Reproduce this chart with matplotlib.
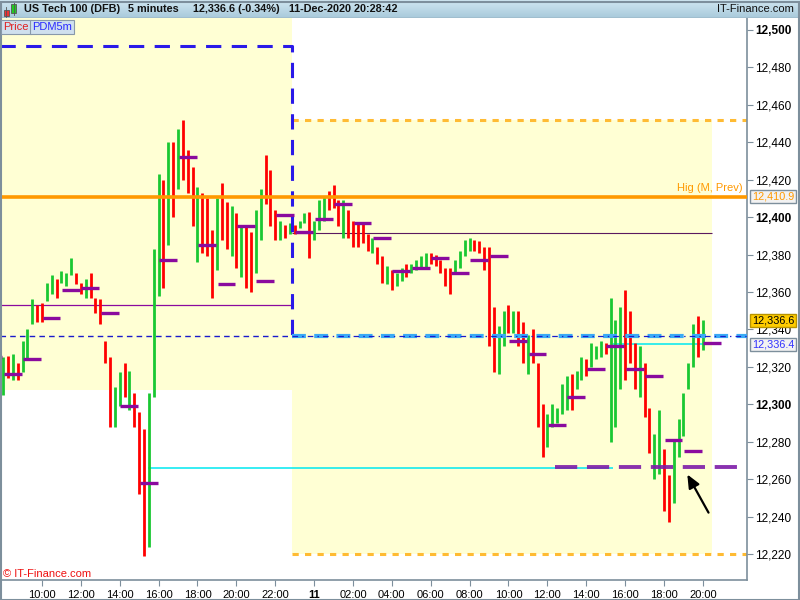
import numpy as np
import matplotlib
matplotlib.use("Agg")
import matplotlib.pyplot as plt
from matplotlib.patches import Rectangle
from matplotlib.colors import LinearSegmentedColormap

plt.rcParams['font.family'] = ['Liberation Sans', 'DejaVu Sans']
plt.rcParams['lines.scale_dashes'] = False

# time in hours since 10-Dec-2020 00:00, 15 minute bars from 08:00
bar_start = 8.0
bar_step = 0.25
bar_high = [12325, 12326, 12327, 12322, 12334, 12340, 12356, 12353, 12354, 12365,
            12369, 12367, 12371, 12370, 12378, 12370, 12365, 12367, 12370, 12357,
            12356, 12334, 12325, 12309, 12317, 12322, 12318, 12306, 12296, 12287,
            12306, 12383, 12423, 12420, 12440, 12440, 12447, 12452, 12436, 12427,
            12416, 12413, 12410, 12393, 12410, 12418, 12408, 12406, 12402, 12395,
            12395, 12392, 12404, 12415, 12433, 12425, 12404, 12398, 12396, 12397,
            12396, 12398, 12402, 12403, 12398, 12409, 12411, 12414, 12417, 12409,
            12409, 12404, 12398, 12397, 12397, 12391, 12389, 12384, 12379, 12374,
            12372, 12370, 12373, 12375, 12375, 12377, 12379, 12381, 12381, 12380,
            12377, 12373, 12373, 12377, 12382, 12388, 12389, 12388, 12387, 12384,
            12384, 12352, 12342, 12350, 12353, 12350, 12350, 12344, 12337, 12340,
            12322, 12300, 12295, 12300, 12298, 12311, 12315, 12316, 12318, 12325,
            12324, 12333, 12331, 12334, 12333, 12357, 12345, 12352, 12361, 12350,
            12333, 12331, 12322, 12298, 12284, 12297, 12276, 12262, 12281, 12292,
            12306, 12322, 12343, 12347, 12345]
bar_low = [12305, 12314, 12313, 12313, 12317, 12324, 12343, 12344, 12344, 12355,
           12359, 12357, 12365, 12363, 12369, 12364, 12359, 12357, 12357, 12349,
           12343, 12322, 12288, 12288, 12299, 12304, 12297, 12288, 12252, 12219,
           12224, 12304, 12358, 12362, 12385, 12400, 12415, 12420, 12413, 12395,
           12376, 12381, 12379, 12357, 12372, 12388, 12383, 12379, 12373, 12368,
           12362, 12360, 12370, 12388, 12407, 12395, 12388, 12388, 12389, 12391,
           12391, 12394, 12397, 12378, 12388, 12393, 12398, 12404, 12405, 12395,
           12389, 12389, 12384, 12384, 12386, 12382, 12381, 12375, 12365, 12364,
           12361, 12363, 12366, 12368, 12370, 12372, 12373, 12373, 12375, 12374,
           12370, 12363, 12359, 12370, 12373, 12379, 12382, 12382, 12381, 12372,
           12331, 12317, 12316, 12331, 12338, 12338, 12331, 12322, 12316, 12322,
           12288, 12272, 12277, 12288, 12290, 12295, 12297, 12297, 12308, 12313,
           12315, 12320, 12324, 12325, 12327, 12280, 12288, 12308, 12313, 12322,
           12308, 12304, 12293, 12274, 12260, 12263, 12243, 12237, 12247, 12272,
           12283, 12308, 12320, 12325, 12329]
bar_up = [1, 0, 1, 0, 1, 1, 1, 0, 0, 1, 1, 0, 1, 1, 1, 0, 0, 1, 0, 0,
          0, 0, 0, 1, 1, 0, 1, 0, 0, 0, 1, 1, 1, 0, 1, 0, 1, 0, 0, 0,
          1, 0, 0, 0, 1, 0, 0, 1, 0, 1, 0, 0, 1, 1, 0, 0, 0, 1, 0, 1,
          0, 1, 1, 0, 1, 1, 1, 0, 0, 0, 1, 0, 0, 0, 0, 0, 1, 0, 0, 1,
          0, 1, 1, 0, 1, 1, 1, 1, 0, 0, 0, 0, 0, 1, 1, 1, 1, 0, 0, 0,
          0, 0, 1, 1, 0, 1, 0, 0, 1, 0, 0, 0, 1, 1, 1, 1, 1, 0, 1, 1,
          0, 1, 1, 1, 0, 1, 1, 1, 0, 0, 0, 1, 0, 0, 1, 1, 0, 0, 1, 1,
          1, 1, 1, 0, 1]

# hourly levels (purple marks), one per hour from 07:00
hour_start = 7
hour_level = [12325, 12316, 12324, 12346, 12361, 12362, 12349, 12299, 12258, 12377,
              12432, 12385, 12364, 12395, 12366, 12401, 12392, 12399, 12407, 12397,
              12389, 12371, 12373, 12378, 12370, 12377, 12379, 12334, 12327, 12289,
              12304, 12319, 12331, 12319, 12315, 12281, 12275, 12333]

session_split = 22.88
now_time = 44.47
prev_high = 12491.5
prev_ref = 12336.4
prev_box_low = 12307.5
prev_mid = 12353.0
day_high = 12452.0
day_low = 12220.0
day_mid = 12391.5
month_high_prev = 12410.9
last_price = 12336.6
cyan_low = 12266.0
cyan_low_span = (15.45, 39.37)
cyan_high = 12332.3
dash_purple = 12266.5
dash_purple_from = 36.4
arrow_tip = (43.13, 12263.8)
arrow_tail = (44.36, 12240.8)

tick_hours = [10, 12, 14, 16, 18, 20, 22, 24, 26, 28, 30, 32, 34, 36, 38, 40, 42, 44]
tick_labels = ['10:00', '12:00', '14:00', '16:00', '18:00', '20:00', '22:00', '11',
               '02:00', '04:00', '06:00', '08:00', '10:00', '12:00', '14:00',
               '16:00', '18:00', '20:00']
price_ticks = list(range(12220, 12501, 20))

yellow = '#ffffd4'
frame = '#7d8f9c'

fig = plt.figure(figsize=(8, 6), dpi=100)
ax = fig.add_axes([0.0, 20 / 600, 747 / 800, 562 / 600])
x0, x1 = 7.84, 46.27
ax.set_xlim(x0, x1)
ax.set_ylim(12206.1, 12506.4)

# session boxes
ax.add_patch(Rectangle((x0 - 1, prev_box_low), session_split - x0 + 1, 300,
                       facecolor=yellow, edgecolor='none', zorder=0))
ax.add_patch(Rectangle((session_split, day_low), now_time - session_split, day_high - day_low,
                       facecolor=yellow, edgecolor='none', zorder=0))

# reference lines
ax.hlines(prev_mid, x0, session_split, color='#8a0a9e', lw=0.9, zorder=1)
ax.hlines(day_mid, session_split, now_time, color='#5a1a60', lw=0.8, zorder=1)
ax.hlines(prev_ref, x0, session_split, color='#1a1acc', lw=1.0, linestyles=(0, (4, 3)), zorder=3)
ax.hlines([day_high, day_low], session_split, x1, color='#ffbb33', lw=2.2,
          linestyles=(0, (4.5, 4.5)), zorder=1)
ax.hlines(cyan_low, *cyan_low_span, color='#00e8f0', lw=1.1, zorder=1)
ax.hlines(cyan_high, cyan_low_span[1], now_time, color='#00e8f0', lw=1.1, zorder=1)

# bars
t = bar_start + bar_step * np.arange(len(bar_high))
cols = np.where(np.array(bar_up) == 1, '#19c832', '#ff0000')
ax.vlines(t, bar_low, bar_high, colors=cols, lw=2.0, zorder=2)

# hourly marks
for k, lev in enumerate(hour_level):
    h = hour_start + k
    ax.hlines(lev, max(h + 0.03, x0), h + 0.95, color='#8a0a9e', lw=2.4, zorder=3)

# PDM lines
ax.plot([x0, session_split, session_split], [prev_high, prev_high, prev_ref],
        color='#2a1ae8', lw=2.2, dashes=(11, 7.5), zorder=3)
ax.hlines(prev_ref, session_split, x1, color='#3aaaf5', lw=3.0,
          linestyles=(0, (10, 6)), zorder=3)
ax.hlines(prev_ref, session_split, x1, color='#1a1acc', lw=0.9,
          linestyles=(0, (4, 3, 1, 3)), zorder=3)
ax.hlines(dash_purple, dash_purple_from, x1 - 0.3, color='#7d1ca8', lw=2.8,
          linestyles=(0, (16, 7)), alpha=0.9, zorder=3)
ax.axhline(month_high_prev, color='#ff9900', lw=2.6, zorder=3)

ax.annotate('', xy=arrow_tip, xytext=arrow_tail,
            arrowprops=dict(arrowstyle='-|>,head_length=0.8,head_width=0.35',
                            color='black', lw=1.6), zorder=4)

# axes styling
ax.spines['top'].set_visible(False)
for s in ['left', 'right', 'bottom']:
    ax.spines[s].set_color(frame)
    ax.spines[s].set_linewidth(1.2)
ax.yaxis.tick_right()
ax.set_yticks(price_ticks)
ax.set_yticklabels([f'{p:,}' for p in price_ticks])
for lab, p in zip(ax.get_yticklabels(), price_ticks):
    if p % 100 == 0:
        lab.set_fontweight('bold')
ax.tick_params(axis='y', direction='out', length=4, width=0.8, color=frame,
               labelsize=8.5, pad=2)
ax.set_xticks(tick_hours)
ax.set_xticklabels(tick_labels)
for lab, txt in zip(ax.get_xticklabels(), tick_labels):
    if txt == '11':
        lab.set_fontweight('bold')
        lab.set_fontsize(9)
ax.tick_params(axis='x', direction='out', length=4, width=0.8, color=frame,
               labelsize=8, pad=3)

# right hand price tags
tag = dict(xycoords=('axes fraction', 'data'), textcoords='offset points',
           fontsize=7.8, va='center', ha='left', annotation_clip=False, zorder=6)
ax.annotate(f'{month_high_prev:,.1f}', xy=(1, month_high_prev), xytext=(3.5, 0),
            color='#ff9900', bbox=dict(boxstyle='square,pad=0.15', fc='#f2f2f2', ec=frame, lw=1), **tag)
ax.annotate(f'{last_price:,.1f}', xy=(1, last_price), xytext=(3.5, 11),
            color='black', bbox=dict(boxstyle='square,pad=0.15', fc='#ffcc00', ec='#b89400', lw=1), **tag)
ax.annotate(f'{prev_ref:,.1f}', xy=(1, prev_ref), xytext=(3.5, -6),
            color='#3333ff', bbox=dict(boxstyle='square,pad=0.15', fc='#f2f2f2', ec=frame, lw=1), **tag)
ax.annotate('Hig (M, Prev)', xy=(1, month_high_prev), xycoords=('axes fraction', 'data'),
            xytext=(-3, 6), textcoords='offset points', ha='right', va='center',
            color='#ff9900', fontsize=8)

# header bar
hax = fig.add_axes([0, 1 - 18 / 600, 1, 18 / 600])
grad = np.linspace(0, 1, 20).reshape(-1, 1)
cmap = LinearSegmentedColormap.from_list('hdr', ['#cfe6f1', '#a9cadb'])
hax.imshow(grad, aspect='auto', cmap=cmap, extent=[0, 800, 18, 0])
hax.set_xlim(0, 800)
hax.set_ylim(18, 0)
hax.axis('off')
hax.add_patch(Rectangle((3.5, 10), 5, 6, fc='#ee3333', ec='#555555', lw=0.6))
hax.plot([6, 6], [7, 17.5], color='#555555', lw=0.6)
hax.add_patch(Rectangle((11, 4), 5, 9, fc='#22cc22', ec='#555555', lw=0.6))
hax.plot([13.5, 13.5], [1.5, 15], color='#555555', lw=0.6)
hax.axhline(17.5, color=frame, lw=1)
hdr = dict(fontsize=7.8, fontweight='bold', va='center', color='#111111')
hax.text(24, 9.5, 'US Tech 100 (DFB)', **hdr)
hax.text(128, 9.5, '5 minutes', **hdr)
hax.text(193, 9.5, '12,336.6 (-0.34%)', **hdr)
hax.text(289, 9.5, '11-Dec-2020 20:28:42', **hdr)
hax.text(794, 9.5, 'IT-Finance.com', fontsize=8, va='center', ha='right', color='#111111')

# tabs
fig.text(3 / 800, 1 - 27 / 600, 'Price', color='#e02020', fontsize=8, va='center',
         bbox=dict(boxstyle='square,pad=0.2', fc='#cfe0ee', ec='#8899aa', lw=0.8))
fig.text(32 / 800, 1 - 27 / 600, 'PDM5m', color='#2a2aff', fontsize=8, va='center',
         bbox=dict(boxstyle='square,pad=0.2', fc='#cfe0ee', ec='#8899aa', lw=0.8))
fig.text(3 / 800, 1 - 574 / 600, '\u00a9 IT-Finance.com', color='#ee1111', fontsize=8,
         va='center')

# outer frame
fig.patches.append(Rectangle((0.5 / 800, 0.5 / 600), 798 / 800, 598 / 600,
                             transform=fig.transFigure, fill=False, ec=frame, lw=1.5))

fig.savefig('out.png', dpi=100)
